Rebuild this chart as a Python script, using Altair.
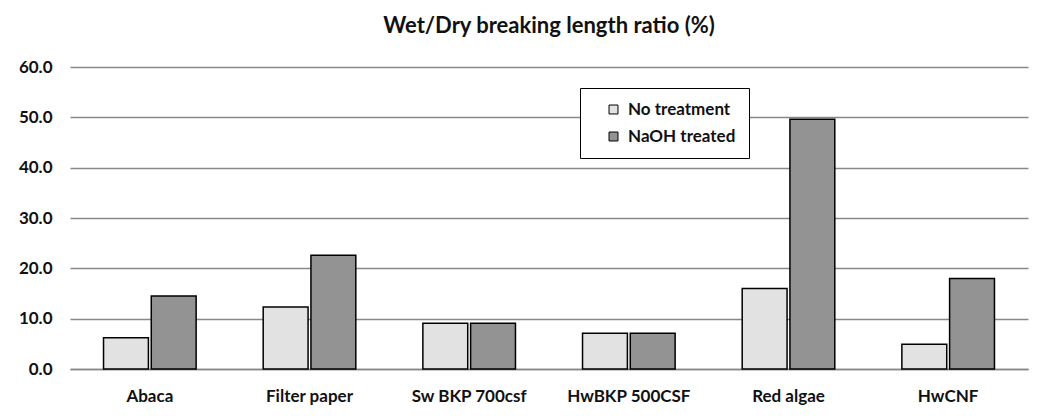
import altair as alt
import pandas as pd

categories = ["Abaca", "Filter paper", "Sw BKP 700csf", "HwBKP 500CSF", "Red algae", "HwCNF"]
series = ["No treatment", "NaOH treated"]
no_treatment = [6.2, 12.3, 9.1, 7.1, 16.0, 4.9]
naoh_treated = [14.5, 22.6, 9.1, 7.1, 49.6, 18.0]

rows = []
for c, a, b in zip(categories, no_treatment, naoh_treated):
    rows.append({"cat": c, "series": series[0], "value": a})
    rows.append({"cat": c, "series": series[1], "value": b})
df = pd.DataFrame(rows)

FONT = "Lato"

bars = alt.Chart(df).mark_bar(stroke="black", strokeWidth=1.5).encode(
    x=alt.X("cat:N", sort=categories, title=None,
            scale=alt.Scale(paddingInner=0.42, paddingOuter=0.21),
            axis=alt.Axis(labelAngle=0, labelFont=FONT, labelFontSize=17, labelFontWeight="bold",
                          labelColor="#111", ticks=False, domainColor="#888", domainWidth=1.5,
                          labelPadding=19, grid=False)),
    xOffset=alt.XOffset("series:N", sort=series, scale=alt.Scale(paddingInner=0.06)),
    y=alt.Y("value:Q", title=None,
            scale=alt.Scale(domain=[0, 60], nice=False),
            axis=alt.Axis(values=[0, 10, 20, 30, 40, 50, 60], format=".1f", labelFont=FONT,
                          labelFontSize=17, labelFontWeight="bold", labelColor="#111",
                          ticks=False, domain=False, gridColor="#888", gridWidth=1.5,
                          labelPadding=18)),
    fill=alt.Fill("series:N", sort=series,
                  scale=alt.Scale(domain=series, range=["#e2e2e2", "#939393"]),
                  legend=alt.Legend(title=None, orient="none", legendX=510, legendY=21,
                                    direction="vertical", symbolType="square", symbolSize=80,
                                    symbolStrokeColor="black", symbolStrokeWidth=1,
                                    symbolOffset=12,
                                    labelFont=FONT, labelFontSize=17, labelFontWeight="bold",
                                    labelColor="#111", strokeColor="black", padding=13,
                                    rowPadding=9, labelOffset=6, fillColor="white",
                                    labelLimit=200)),
)

chart = bars.properties(
    width=958, height=302,
    title=alt.TitleParams("Wet/Dry breaking length ratio (%)", font=FONT, fontSize=22,
                          fontWeight="bold", color="#111", offset=20),
    padding={"left": 62, "top": 59, "right": 10, "bottom": 40},
    autosize=alt.AutoSizeParams(type="none"),
).configure_view(stroke=None)

chart.save("out.html", embed_options={"renderer": "svg", "actions": False})
